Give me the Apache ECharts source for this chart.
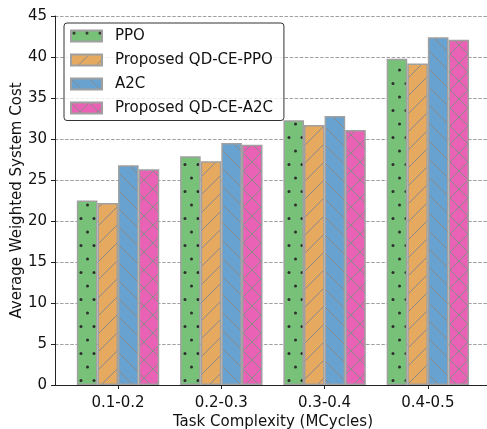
<!DOCTYPE html>
<html>
<head>
<meta charset="utf-8">
<script src="https://cdn.jsdelivr.net/npm/echarts@6/dist/echarts.min.js"></script>
<style>
  html, body { margin: 0; padding: 0; background: #fff; }
  #main { width: 487px; height: 429px; }
</style>
</head>
<body>
<div id="main"></div>
<script>
const categories = ['0.1-0.2', '0.2-0.3', '0.3-0.4', '0.4-0.5'];
const seriesNames = ['PPO', 'Proposed QD-CE-PPO', 'A2C', 'Proposed QD-CE-A2C'];
const ppo = [22.5, 27.9, 32.3, 39.8];
const qdPpo = [22.2, 27.3, 31.7, 39.2];
const a2c = [26.8, 29.5, 32.8, 42.4];
const qdA2c = [26.3, 29.3, 31.1, 42.1];

// hatch tiles, drawn once on little canvases and repeated
function hatch(bg, kind) {
  const c = document.createElement('canvas');
  const g = c.getContext('2d');
  if (kind === 'dot') {
    c.width = 13; c.height = 27;
    g.fillStyle = bg;
    g.fillRect(0, 0, c.width, c.height);
    g.fillStyle = '#2e2e2e';
    g.beginPath(); g.arc(3, 2.5, 1.5, 0, Math.PI * 2); g.fill();
    g.beginPath(); g.arc(9.5, 16, 1.5, 0, Math.PI * 2); g.fill();
    return { image: c, repeat: 'repeat' };
  }
  const s = 18;
  c.width = s; c.height = s;
  g.fillStyle = bg;
  g.fillRect(0, 0, s, s);
  g.strokeStyle = '#8a8a8a';
  g.lineWidth = 1;
  if (kind === 'fwd' || kind === 'x') {
    g.beginPath(); g.moveTo(-1, s + 1); g.lineTo(s + 1, -1); g.stroke();
  }
  if (kind === 'back' || kind === 'x') {
    g.beginPath(); g.moveTo(-1, -1); g.lineTo(s + 1, s + 1); g.stroke();
  }
  return { image: c, repeat: 'repeat' };
}

const fills = [
  hatch('#77c178', 'dot'),
  hatch('#e5aa60', 'fwd'),
  hatch('#67a2d0', 'back'),
  hatch('#e962b5', 'x')
];
const values = [ppo, qdPpo, a2c, qdA2c];

const chart = echarts.init(document.getElementById('main'));
const font = 'DejaVu Sans';
const ink = '#111';

const option = {
  animation: false,
  backgroundColor: '#fff',
  grid: [
    // outer frame: spines + y ticks + gridlines
    { left: 55, right: -4, top: 16, bottom: 44, outerBoundsMode: 'none', containLabel: false },
    // inner: where the categories sit
    { left: 66.4, right: 7.5, top: 16, bottom: 44, outerBoundsMode: 'none', containLabel: false }
  ],
  legend: {
    orient: 'vertical',
    left: 64,
    top: 23,
    itemWidth: 31,
    itemHeight: 11,
    itemGap: 7,
    padding: [4.5, 11, 4, 6],
    borderColor: '#333',
    borderWidth: 1,
    borderRadius: 3,
    backgroundColor: 'rgba(255,255,255,0.8)',
    textStyle: { fontFamily: font, fontSize: 15, lineHeight: 17, color: ink, padding: [0, 0, 0, 8] },
    data: seriesNames.map(n => ({ name: n, icon: 'rect' }))
  },
  xAxis: [
    {
      gridIndex: 0, type: 'value', min: 0, max: 1,
      axisLine: { show: true, onZero: false, lineStyle: { color: '#222', width: 1 } },
      axisTick: { show: false }, axisLabel: { show: false }, splitLine: { show: false }
    },
    {
      gridIndex: 1,
      type: 'category',
      data: categories,
      name: 'Task Complexity (MCycles)',
      nameLocation: 'middle',
      nameGap: 30,
      nameMoveOverlap: false,
      nameTextStyle: { fontFamily: font, fontSize: 15, color: ink },
      axisLine: { show: false },
      axisTick: { show: true, alignWithLabel: true, length: 4, lineStyle: { color: '#222' } },
      axisLabel: { fontFamily: font, fontSize: 15, color: ink, margin: 11 },
      splitLine: { show: false }
    }
  ],
  yAxis: [
    {
      gridIndex: 0,
      type: 'value',
      min: 0,
      max: 45,
      interval: 5,
      name: 'Average Weighted System Cost',
      nameLocation: 'middle',
      nameGap: 30,
      nameMoveOverlap: false,
      nameTextStyle: { fontFamily: font, fontSize: 15, color: ink },
      axisLine: { show: true, lineStyle: { color: '#222', width: 1 } },
      axisTick: { show: true, length: 4, lineStyle: { color: '#222' } },
      axisLabel: { fontFamily: font, fontSize: 15, color: ink, margin: 8 },
      splitLine: { show: true, lineStyle: { color: '#a0a0a0', type: [3.5, 1.6], width: 1 } }
    },
    {
      gridIndex: 1, type: 'value', min: 0, max: 45, show: false
    }
  ],
  series: seriesNames.map((n, i) => ({
    name: n,
    type: 'bar',
    xAxisIndex: 1,
    yAxisIndex: 1,
    data: values[i],
    barWidth: 20.6,
    barGap: '0%',
    itemStyle: { color: fills[i], borderColor: '#a0a0a0', borderWidth: 1.5 }
  }))
};

chart.setOption(option);
</script>
</body>
</html>
